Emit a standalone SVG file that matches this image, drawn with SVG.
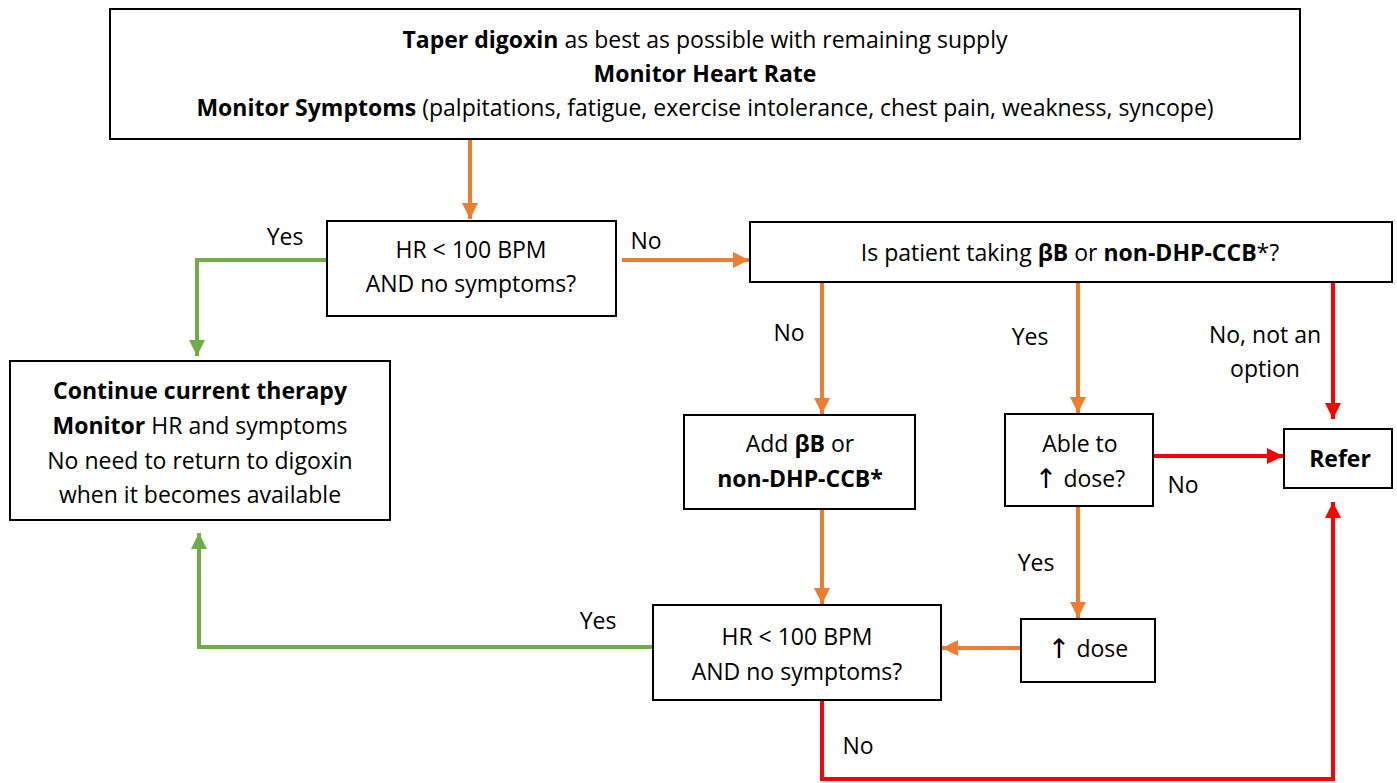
<svg xmlns="http://www.w3.org/2000/svg" width="1397" height="783" viewBox="0 0 1397 783">
<style>
.box{fill:#fff;stroke:#000;stroke-width:2}
text{font-family:"Open Sans","Liberation Sans",sans-serif;font-size:23px;fill:#000;text-anchor:middle;dominant-baseline:central}
.b{font-weight:bold}
.ar{font-family:"DejaVu Sans",sans-serif;font-weight:normal;font-size:27px}
.o{stroke:#ED7D31;stroke-width:4;fill:none}
.g{stroke:#70AD47;stroke-width:4;fill:none}
.r{stroke:#FF0000;stroke-width:4;fill:none}
</style>
<defs>
<marker id="ao" markerUnits="userSpaceOnUse" markerWidth="18" markerHeight="18" refX="16" refY="9" orient="auto"><path d="M0,1 L16,9 L0,17 Z" fill="#ED7D31"/></marker>
<marker id="ag" markerUnits="userSpaceOnUse" markerWidth="18" markerHeight="18" refX="16" refY="9" orient="auto"><path d="M0,1 L16,9 L0,17 Z" fill="#70AD47"/></marker>
<marker id="ar" markerUnits="userSpaceOnUse" markerWidth="18" markerHeight="18" refX="16" refY="9" orient="auto"><path d="M0,1 L16,9 L0,17 Z" fill="#FF0000"/></marker>
</defs>
<g id="connectors">
<path class="o" d="M470,140 V219" marker-end="url(#ao)"/>
<path class="g" d="M327,260 H197 V356" marker-end="url(#ag)"/>
<path class="o" d="M622,260 H749" marker-end="url(#ao)"/>
<path class="o" d="M822,282 V414" marker-end="url(#ao)"/>
<path class="o" d="M1078,282 V413" marker-end="url(#ao)"/>
<path class="r" d="M1333,282 V419" marker-end="url(#ar)"/>
<path class="r" d="M1153,456 H1283" marker-end="url(#ar)"/>
<path class="o" d="M822,509 V604" marker-end="url(#ao)"/>
<path class="o" d="M1078,506 V618" marker-end="url(#ao)"/>
<path class="o" d="M1021,648 H942" marker-end="url(#ao)"/>
<path class="g" d="M653,647 H199 V533" marker-end="url(#ag)"/>
<path class="r" d="M822,700 V779 H1333 V502" marker-end="url(#ar)"/>
<text x="285" y="236">Yes</text>
<text x="646" y="240">No</text>
<text x="789" y="332">No</text>
<text x="1030" y="336">Yes</text>
<text x="1265" y="334">No, not an</text>
<text x="1265" y="368">option</text>
<text x="1183" y="484">No</text>
<text x="1036" y="562">Yes</text>
<text x="598" y="620">Yes</text>
<text x="858" y="745">No</text>
</g>
<g id="top">
<rect class="box" x="110" y="9" width="1190" height="130"/>
<text x="705" y="39"><tspan class="b">Taper digoxin</tspan> as best as possible with remaining supply</text>
<text x="705" y="73" class="b">Monitor Heart Rate</text>
<text x="705" y="107"><tspan class="b">Monitor Symptoms</tspan> (palpitations, fatigue, exercise intolerance, chest pain, weakness, syncope)</text>
</g>
<g id="hr1">
<rect class="box" x="327" y="221" width="289" height="95"/>
<text x="471" y="249">HR &lt; 100 BPM</text>
<text x="471" y="283">AND no symptoms?</text>
</g>
<g id="continue">
<rect class="box" x="10" y="361" width="380" height="159"/>
<text x="200" y="390" class="b">Continue current therapy</text>
<text x="200" y="425"><tspan class="b">Monitor</tspan> HR and symptoms</text>
<text x="200" y="460">No need to return to digoxin</text>
<text x="200" y="494">when it becomes available</text>
</g>
<g id="taking">
<rect class="box" x="750" y="222" width="642" height="60"/>
<text x="1070" y="252">Is patient taking <tspan class="b">βB</tspan> or <tspan class="b">non-DHP-CCB</tspan>*?</text>
</g>
<g id="add">
<rect class="box" x="684" y="415" width="231" height="94"/>
<text x="800" y="443">Add <tspan class="b">βB</tspan> or</text>
<text x="800" y="478" class="b">non-DHP-CCB*</text>
</g>
<g id="able">
<rect class="box" x="1005" y="414" width="148" height="92"/>
<text x="1080" y="443">Able to</text>
<text x="1080" y="478"><tspan class="ar">↑</tspan> dose?</text>
</g>
<g id="refer">
<rect class="box" x="1284" y="429" width="108" height="59"/>
<text x="1340" y="458" class="b">Refer</text>
</g>
<g id="dose">
<rect class="box" x="1021" y="619" width="134" height="63"/>
<text x="1088" y="648"><tspan class="ar">↑</tspan> dose</text>
</g>
<g id="hr2">
<rect class="box" x="653" y="605" width="288" height="95"/>
<text x="797" y="636">HR &lt; 100 BPM</text>
<text x="797" y="671">AND no symptoms?</text>
</g>
</svg>
